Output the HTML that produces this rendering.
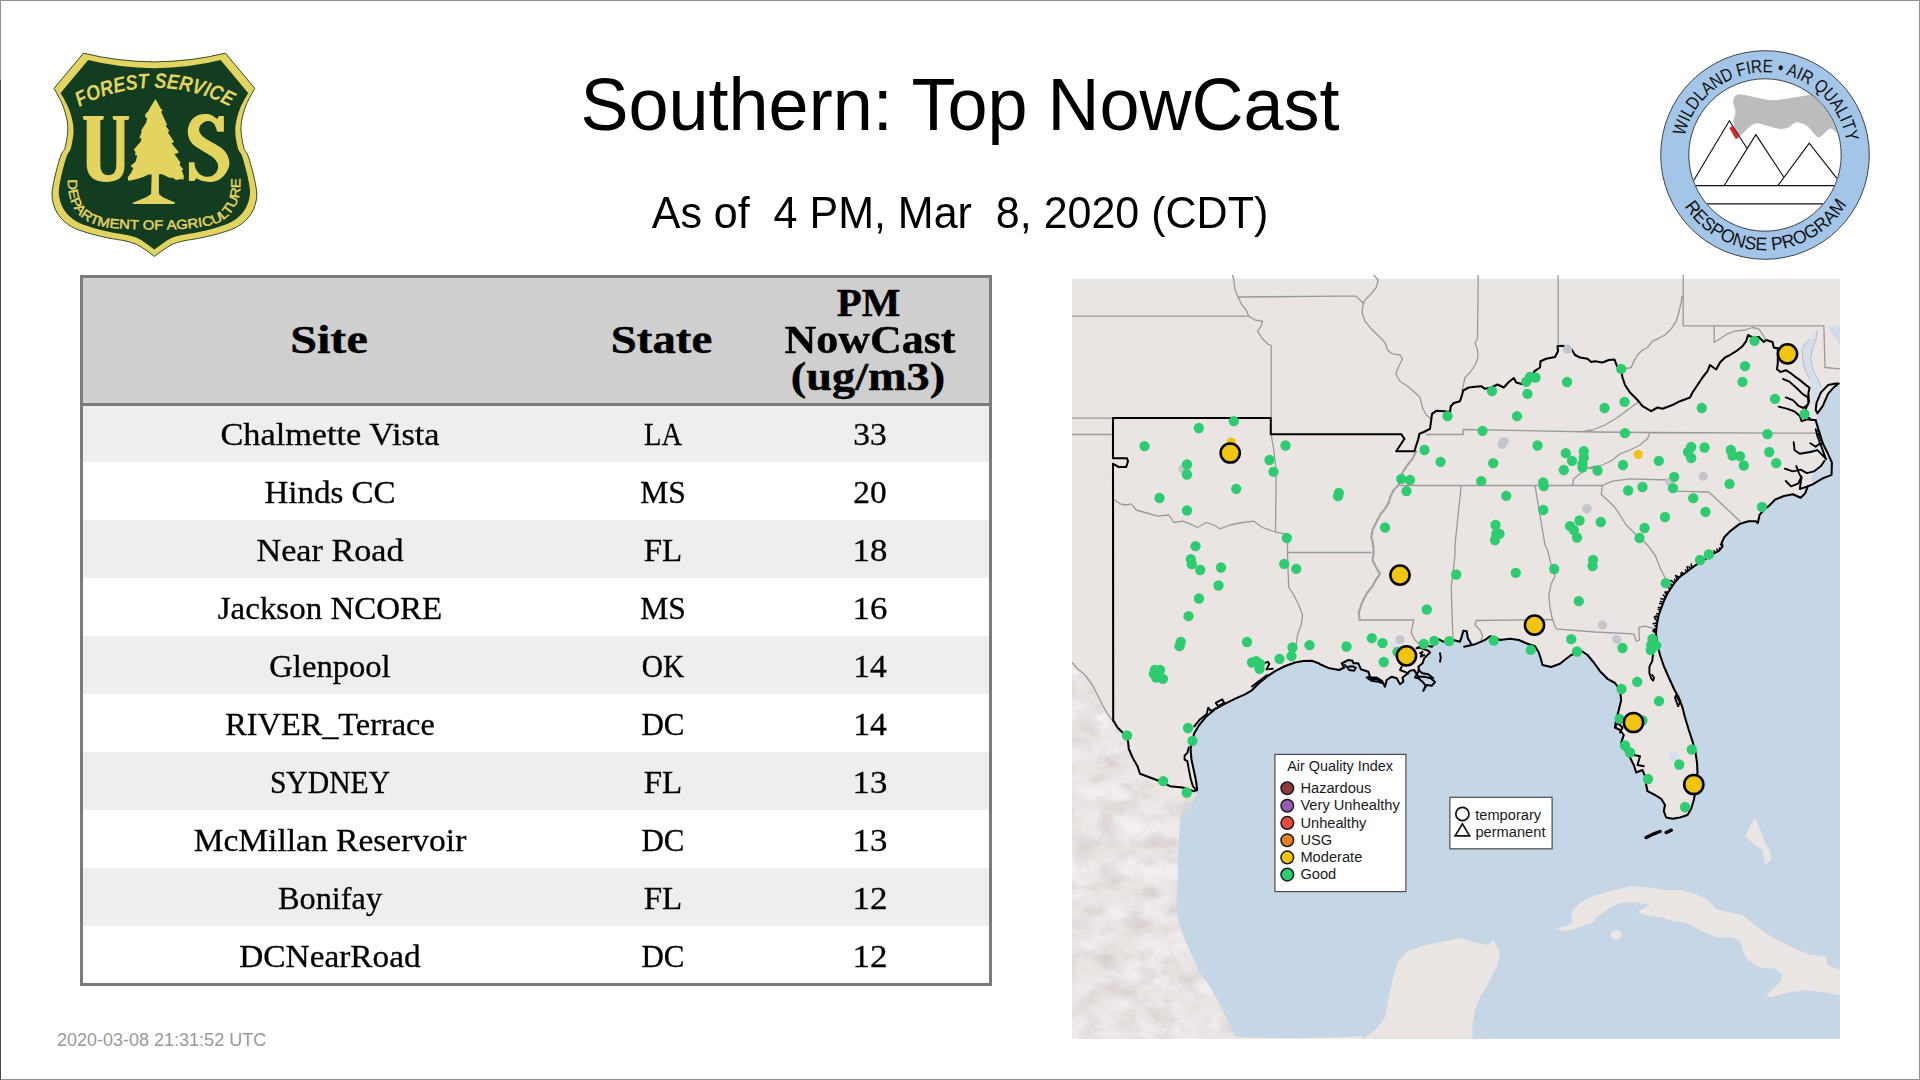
<!DOCTYPE html>
<html><head><meta charset="utf-8"><title>Southern: Top NowCast</title>
<style>
html,body{margin:0;padding:0;background:#fff;}
body{width:1920px;height:1080px;position:relative;overflow:hidden;font-family:"Liberation Sans",sans-serif;color:#000;}
.abs{position:absolute;}
.frame{left:0;top:0;width:1918px;height:1078px;border:1px solid #909090;}
.ledge{left:0;top:80px;width:1px;height:1000px;background:#4a4a4a;}
.title{left:0;width:1920px;text-align:center;white-space:pre;}
#t1{top:64px;font-size:72px;line-height:82px;transform:scaleY(1.04);transform-origin:50% 66px;}
#t2{top:188px;font-size:43px;line-height:50px;transform:scaleY(1.05);transform-origin:50% 40px;}
#foot{left:57px;top:1029.5px;font-size:18px;line-height:20px;color:#999;white-space:pre;}
.tb{background:#7b7b7b;}
.hd{left:83px;top:278px;width:906px;height:125px;background:#cfcfcf;}
.row{left:83px;width:906px;}
.g{background:#eeeeee;}
.cell{position:absolute;text-align:center;white-space:pre;font-family:"Liberation Serif",serif;font-size:31px;line-height:34px;height:34px;-webkit-text-stroke:0.3px #000;}
.c1{left:130px;width:400px;}
.c2{left:563px;width:200px;}
.c3{left:769.5px;width:200px;}
.h{font-weight:bold;font-size:40px;line-height:42px;height:42px;-webkit-text-stroke:0.45px #000;}

</style></head>
<body>
<div class="abs frame"></div><div class="abs ledge"></div>
<div class="abs title" id="t1">Southern: Top NowCast</div>
<div class="abs title" id="t2">As of  4 PM, Mar  8, 2020 (CDT)</div>
<div class="abs" id="foot">2020-03-08 21:31:52 UTC</div>
<svg class="abs" style="left:40px;top:40px" width="240" height="230" viewBox="40 40 240 230">
<path d="M154.40 61.9 Q192.40 61.5 225.30 53.1 L254.80 88.40 C253.28 91.35 248.00 99.75 245.70 106.10 C243.40 112.45 241.35 119.70 241.00 126.50 C240.65 133.30 242.47 142.15 243.60 146.90 C244.73 151.65 246.52 151.73 247.80 155.00 C249.08 158.27 250.15 162.30 251.30 166.50 C252.45 170.70 253.78 175.62 254.70 180.20 C255.62 184.78 256.70 189.98 256.80 194.00 C256.90 198.02 256.22 201.07 255.30 204.30 C254.38 207.53 253.12 210.53 251.30 213.40 C249.48 216.27 247.27 219.02 244.40 221.50 C241.53 223.98 238.68 226.20 234.10 228.30 C229.52 230.40 222.63 232.47 216.90 234.10 C211.17 235.73 205.23 236.97 199.70 238.10 C194.17 239.23 188.28 239.85 183.70 240.90 C179.12 241.95 175.65 242.87 172.20 244.40 C168.75 245.93 165.97 248.10 163.00 250.10 C160.03 252.10 155.83 255.35 154.40 256.40 C152.97 255.35 148.77 252.10 145.80 250.10 C142.83 248.10 140.05 245.93 136.60 244.40 C133.15 242.87 129.68 241.95 125.10 240.90 C120.52 239.85 114.63 239.23 109.10 238.10 C103.57 236.97 97.63 235.73 91.90 234.10 C86.17 232.47 79.28 230.40 74.70 228.30 C70.12 226.20 67.27 223.98 64.40 221.50 C61.53 219.02 59.32 216.27 57.50 213.40 C55.68 210.53 54.42 207.53 53.50 204.30 C52.58 201.07 51.90 198.02 52.00 194.00 C52.10 189.98 53.18 184.78 54.10 180.20 C55.02 175.62 56.35 170.70 57.50 166.50 C58.65 162.30 59.72 158.27 61.00 155.00 C62.28 151.73 64.07 151.65 65.20 146.90 C66.33 142.15 68.15 133.30 67.80 126.50 C67.45 119.70 65.40 112.45 63.10 106.10 C60.80 99.75 55.52 91.35 54.00 88.40 L83.50 53.1 Q116.40 61.5 154.40 61.9 Z" fill="#e3d45f" stroke="#133d20" stroke-width="0.9"/>
<path d="M154.40 61.9 Q192.40 61.5 225.30 53.1 L254.80 88.40 C253.28 91.35 248.00 99.75 245.70 106.10 C243.40 112.45 241.35 119.70 241.00 126.50 C240.65 133.30 242.47 142.15 243.60 146.90 C244.73 151.65 246.52 151.73 247.80 155.00 C249.08 158.27 250.15 162.30 251.30 166.50 C252.45 170.70 253.78 175.62 254.70 180.20 C255.62 184.78 256.70 189.98 256.80 194.00 C256.90 198.02 256.22 201.07 255.30 204.30 C254.38 207.53 253.12 210.53 251.30 213.40 C249.48 216.27 247.27 219.02 244.40 221.50 C241.53 223.98 238.68 226.20 234.10 228.30 C229.52 230.40 222.63 232.47 216.90 234.10 C211.17 235.73 205.23 236.97 199.70 238.10 C194.17 239.23 188.28 239.85 183.70 240.90 C179.12 241.95 175.65 242.87 172.20 244.40 C168.75 245.93 165.97 248.10 163.00 250.10 C160.03 252.10 155.83 255.35 154.40 256.40 C152.97 255.35 148.77 252.10 145.80 250.10 C142.83 248.10 140.05 245.93 136.60 244.40 C133.15 242.87 129.68 241.95 125.10 240.90 C120.52 239.85 114.63 239.23 109.10 238.10 C103.57 236.97 97.63 235.73 91.90 234.10 C86.17 232.47 79.28 230.40 74.70 228.30 C70.12 226.20 67.27 223.98 64.40 221.50 C61.53 219.02 59.32 216.27 57.50 213.40 C55.68 210.53 54.42 207.53 53.50 204.30 C52.58 201.07 51.90 198.02 52.00 194.00 C52.10 189.98 53.18 184.78 54.10 180.20 C55.02 175.62 56.35 170.70 57.50 166.50 C58.65 162.30 59.72 158.27 61.00 155.00 C62.28 151.73 64.07 151.65 65.20 146.90 C66.33 142.15 68.15 133.30 67.80 126.50 C67.45 119.70 65.40 112.45 63.10 106.10 C60.80 99.75 55.52 91.35 54.00 88.40 L83.50 53.1 Q116.40 61.5 154.40 61.9 Z" fill="#133d20" transform="translate(154.40 154.9) scale(0.934 0.932) translate(-154.40 -154.9)"/>
<g transform="translate(75 95) scale(0.11111)" fill="#e3d45f"><path d="M72 190 H258 V212 Q258 225 240 225 H228 V630 Q228 722 300 722 Q372 722 372 630 V225 H358 Q340 225 340 212 V190 H487 V212 Q487 225 470 225 H445 V640 Q445 782 290 782 Q105 782 105 620 V225 H90 Q72 225 72 212 Z"/><path d="M1340 190 L1295 190 L1280 215 C1271.67 209.50 1246.67 189.50 1230.00 182.00 C1213.33 174.50 1201.67 169.50 1180.00 170.00 C1158.33 170.50 1123.33 173.33 1100.00 185.00 C1076.67 196.67 1054.17 217.50 1040.00 240.00 C1025.83 262.50 1016.67 293.33 1015.00 320.00 C1013.33 346.67 1019.17 376.67 1030.00 400.00 C1040.83 423.33 1058.33 441.67 1080.00 460.00 C1101.67 478.33 1133.33 493.33 1160.00 510.00 C1186.67 526.67 1219.17 541.67 1240.00 560.00 C1260.83 578.33 1278.33 600.00 1285.00 620.00 C1291.67 640.00 1287.50 662.50 1280.00 680.00 C1272.50 697.50 1256.67 715.83 1240.00 725.00 C1223.33 734.17 1200.00 737.50 1180.00 735.00 C1160.00 732.50 1135.83 722.50 1120.00 710.00 C1104.17 697.50 1092.50 677.50 1085.00 660.00 C1077.50 642.50 1076.67 614.17 1075.00 605.00 L1025 605 L1025 775 L1075 775 L1090 750 C1100.00 754.17 1128.33 769.67 1150.00 775.00 C1171.67 780.33 1195.00 784.50 1220.00 782.00 C1245.00 779.50 1276.67 773.67 1300.00 760.00 C1323.33 746.33 1345.00 723.33 1360.00 700.00 C1375.00 676.67 1388.33 646.67 1390.00 620.00 C1391.67 593.33 1381.67 563.33 1370.00 540.00 C1358.33 516.67 1341.67 498.33 1320.00 480.00 C1298.33 461.67 1266.67 446.67 1240.00 430.00 C1213.33 413.33 1180.00 396.67 1160.00 380.00 C1140.00 363.33 1125.83 346.67 1120.00 330.00 C1114.17 313.33 1118.33 294.17 1125.00 280.00 C1131.67 265.83 1145.83 252.50 1160.00 245.00 C1174.17 237.50 1194.17 231.67 1210.00 235.00 C1225.83 238.33 1243.33 249.17 1255.00 265.00 C1266.67 280.83 1275.83 319.17 1280.00 330.00 L1340 330 Z"/><path d="M725 35 L770 120 L790 140 L775 150 L825 260 L830 270 L815 275 L850 325 L835 335 L890 420 L880 432 L865 430 L935 515 L920 525 L895 530 L950 610 L940 625 L975 670 L960 680 L980 730 L975 765 L955 755 L935 760 L910 765 L880 745 L850 745 L830 735 L800 720 L770 710 L755 715 L755 890 L790 920 L905 970 L890 982 L530 982 L515 972 L640 920 L685 890 L690 715 L660 715 L620 735 L580 750 L540 760 L500 770 L478 770 L475 740 L505 700 L525 660 L500 640 L545 600 L560 545 L540 540 L545 515 L530 490 L590 420 L600 395 L580 385 L600 330 L595 320 L640 250 L650 210 L630 195 L635 170 L660 145 L690 90 Z"/></g>
<path id="fsTop" d="M78.1 107.7 A159.3 159.3 0 0 1 232.3 108.1" fill="none"/>
<path id="fsBot" d="M67.90 179.60 C67.97 181.23 67.82 185.87 68.30 189.40 C68.78 192.93 69.62 197.37 70.80 200.80 C71.98 204.23 73.40 207.13 75.40 210.00 C77.40 212.87 79.85 215.70 82.80 218.00 C85.75 220.30 89.28 222.27 93.10 223.80 C96.92 225.33 100.35 226.35 105.70 227.20 C111.05 228.05 117.08 228.52 125.20 228.90 C133.32 229.28 144.85 229.50 154.40 229.50 C163.95 229.50 174.38 229.38 182.50 228.90 C190.62 228.42 197.37 227.55 203.10 226.60 C208.83 225.65 213.08 224.63 216.90 223.20 C220.72 221.77 223.33 220.20 226.00 218.00 C228.67 215.80 230.88 213.05 232.90 210.00 C234.92 206.95 236.90 203.13 238.10 199.70 C239.30 196.27 239.72 192.83 240.10 189.40 C240.48 185.97 240.35 180.82 240.40 179.10" fill="none"/>
<text font-family="Liberation Sans, sans-serif" font-weight="bold" font-style="italic" font-size="21" fill="#e3d45f"><textPath href="#fsTop" startOffset="1.5" textLength="157" lengthAdjust="spacingAndGlyphs">FOREST SERVICE</textPath></text>
<text font-family="Liberation Sans, sans-serif" font-size="13.2" stroke="#e3d45f" stroke-width="0.45" fill="#e3d45f"><textPath href="#fsBot" textLength="233.7" lengthAdjust="spacingAndGlyphs">DEPARTMENT OF AGRICULTURE</textPath></text>
</svg>

<svg class="abs" style="left:1650px;top:40px" width="230" height="230" viewBox="1650 40 230 230">
<circle cx="1765" cy="155" r="104.3" fill="#a3c5e8" stroke="#1a1a1a" stroke-width="0.8"/>
<circle cx="1765" cy="155" r="76.2" fill="#fff" stroke="#1a1a1a" stroke-width="0.8"/>
<defs><clipPath id="aqc"><circle cx="1765" cy="155" r="75.8"/></clipPath></defs>
<g clip-path="url(#aqc)">
<path d="M1733.43 98.98 C1733.94 98.30 1734.62 95.59 1736.48 94.91 C1738.35 94.23 1741.24 94.47 1744.63 94.91 C1748.03 95.35 1752.78 96.71 1756.85 97.56 C1760.93 98.41 1765.00 99.66 1769.08 100.00 C1773.15 100.34 1777.22 100.00 1781.30 99.59 C1785.37 99.19 1789.45 98.24 1793.52 97.56 C1797.60 96.88 1802.52 96.03 1805.74 95.52 C1808.97 95.01 1809.48 93.75 1812.87 94.50 C1816.27 95.25 1821.87 96.71 1826.11 100.00 C1830.36 103.29 1835.28 108.49 1838.34 114.26 C1841.39 120.03 1844.45 131.24 1844.45 134.63 C1844.45 138.03 1840.03 135.31 1838.34 134.63 C1836.64 133.95 1835.62 131.58 1834.26 130.56 C1832.90 129.54 1831.55 128.35 1830.19 128.52 C1828.83 128.69 1827.47 130.39 1826.11 131.58 C1824.76 132.76 1823.40 134.73 1822.04 135.65 C1820.68 136.57 1819.32 137.42 1817.97 137.08 C1816.61 136.74 1815.25 135.04 1813.89 133.61 C1812.53 132.19 1811.35 130.05 1809.82 128.52 C1808.29 126.99 1806.59 125.46 1804.72 124.45 C1802.86 123.43 1800.48 122.58 1798.61 122.41 C1796.75 122.24 1795.22 122.58 1793.52 123.43 C1791.82 124.28 1790.47 126.58 1788.43 127.50 C1786.39 128.42 1783.84 128.93 1781.30 128.93 C1778.75 128.93 1775.70 128.08 1773.15 127.50 C1770.60 126.92 1768.40 126.14 1766.02 125.46 C1763.64 124.79 1760.93 123.67 1758.89 123.43 C1756.85 123.19 1755.50 123.36 1753.80 124.04 C1752.10 124.72 1750.23 126.25 1748.71 127.50 C1747.18 128.76 1745.99 130.22 1744.63 131.58 C1743.27 132.93 1741.75 135.14 1740.56 135.65 C1739.37 136.16 1738.52 136.16 1737.50 134.63 C1736.48 133.10 1735.12 128.86 1734.45 126.48 C1733.77 124.11 1733.26 122.75 1733.43 120.37 C1733.60 118.00 1735.46 114.94 1735.46 112.22 C1735.46 109.51 1733.77 106.28 1733.43 104.08 C1733.09 101.87 1733.43 99.83 1733.43 98.98 Z" fill="#bbbcbe"/>
<g fill="none" stroke="#111" stroke-width="1.15">
<path d="M1693.70 180.47 L1729.35 120.78 L1747.08 148.48"/><path d="M1724.26 185.56 L1755.84 134.63 L1783.74 177.00"/><path d="M1777.84 185.56 L1809.21 143.19 L1836.91 178.43"/><path d="M1693.70 185.56 L1835.28 185.56"/><path d="M1705.93 203.89 L1824.08 203.89"/></g>
<path d="M1729.35 128.11 L1732.41 126.08 L1738.93 137.08 L1735.87 139.32 Z" fill="#de2126"/>
</g>
<path id="aqTop" d="M1684.58 136.14 A82.6 82.6 0 0 1 1846.49 141.51" fill="none"/>
<path id="aqBot" d="M1684.45 206.12 A95.4 95.4 0 0 0 1846.60 204.42" fill="none"/>
<text font-family="Liberation Sans, sans-serif" font-size="18.3" fill="#111"><textPath href="#aqTop" textLength="226.9" lengthAdjust="spacingAndGlyphs">WILDLAND FIRE • AIR QUALITY</textPath></text>
<text font-family="Liberation Sans, sans-serif" font-size="18.3" fill="#111"><textPath href="#aqBot" textLength="193.8" lengthAdjust="spacingAndGlyphs">RESPONSE PROGRAM</textPath></text>
</svg>

<!-- TABLE -->
<div class="abs tb" style="left:80px;top:275px;width:912px;height:711px;"></div>
<div class="abs" style="left:83px;top:278px;width:906px;height:705px;background:#fff;"></div>
<div class="abs hd"></div>
<div class="abs tb" style="left:83px;top:403px;width:906px;height:3px;"></div>
<div class="abs row g" style="top:406px;height:56px;"></div>
<div class="abs row g" style="top:520px;height:58px;"></div>
<div class="abs row g" style="top:636px;height:58px;"></div>
<div class="abs row g" style="top:752px;height:58px;"></div>
<div class="abs row g" style="top:868px;height:58px;"></div>
<div class="cell c1 h" style="top:318.5px;transform:translateX(-1.0px) scaleX(1.202);">Site</div>
<div class="cell c2 h" style="top:318.5px;transform:translateX(-1.5px) scaleX(1.170);">State</div>
<div class="cell c3 h" style="top:281.5px;transform:translateX(-1.5px) scaleX(1.022);">PM</div>
<div class="cell c3 h" style="top:318.5px;transform:translateX(0.0px) scaleX(1.098);">NowCast</div>
<div class="cell c3 h" style="top:355.5px;transform:translateX(-2.0px) scaleX(1.157);">(ug/m3)</div>

<div class="cell c1" style="top:417.5px;transform:translateX(0.0px) scaleX(1.106);">Chalmette Vista</div>
<div class="cell c2" style="top:417.5px;transform:translateX(0.0px) scaleX(0.923);">LA</div>
<div class="cell c3" style="top:417.5px;transform:translateX(0.0px) scaleX(1.077);">33</div>
<div class="cell c1" style="top:475.5px;transform:translateX(0.0px) scaleX(1.064);">Hinds CC</div>
<div class="cell c2" style="top:475.5px;transform:translateX(0.0px) scaleX(1.020);">MS</div>
<div class="cell c3" style="top:475.5px;transform:translateX(0.0px) scaleX(1.077);">20</div>
<div class="cell c1" style="top:533.5px;transform:translateX(0.0px) scaleX(1.102);">Near Road</div>
<div class="cell c2" style="top:533.5px;transform:translateX(0.0px) scaleX(1.064);">FL</div>
<div class="cell c3" style="top:533.5px;transform:translateX(0.0px) scaleX(1.122);">18</div>
<div class="cell c1" style="top:591.5px;transform:translateX(0.0px) scaleX(1.064);">Jackson NCORE</div>
<div class="cell c2" style="top:591.5px;transform:translateX(0.0px) scaleX(1.020);">MS</div>
<div class="cell c3" style="top:591.5px;transform:translateX(0.0px) scaleX(1.122);">16</div>
<div class="cell c1" style="top:649.5px;transform:translateX(0.0px) scaleX(1.052);">Glenpool</div>
<div class="cell c2" style="top:649.5px;transform:translateX(0.0px) scaleX(0.949);">OK</div>
<div class="cell c3" style="top:649.5px;transform:translateX(0.0px) scaleX(1.081);">14</div>
<div class="cell c1" style="top:707.5px;transform:translateX(0.0px) scaleX(1.043);">RIVER_Terrace</div>
<div class="cell c2" style="top:707.5px;transform:translateX(0.0px) scaleX(0.998);">DC</div>
<div class="cell c3" style="top:707.5px;transform:translateX(0.0px) scaleX(1.081);">14</div>
<div class="cell c1" style="top:765.5px;transform:translateX(0.0px) scaleX(0.956);">SYDNEY</div>
<div class="cell c2" style="top:765.5px;transform:translateX(0.0px) scaleX(1.064);">FL</div>
<div class="cell c3" style="top:765.5px;transform:translateX(0.0px) scaleX(1.122);">13</div>
<div class="cell c1" style="top:823.5px;transform:translateX(0.0px) scaleX(1.081);">McMillan Reservoir</div>
<div class="cell c2" style="top:823.5px;transform:translateX(0.0px) scaleX(0.998);">DC</div>
<div class="cell c3" style="top:823.5px;transform:translateX(0.0px) scaleX(1.122);">13</div>
<div class="cell c1" style="top:881.5px;transform:translateX(0.0px) scaleX(1.043);">Bonifay</div>
<div class="cell c2" style="top:881.5px;transform:translateX(0.0px) scaleX(1.064);">FL</div>
<div class="cell c3" style="top:881.5px;transform:translateX(0.0px) scaleX(1.128);">12</div>
<div class="cell c1" style="top:939.5px;transform:translateX(0.0px) scaleX(1.075);">DCNearRoad</div>
<div class="cell c2" style="top:939.5px;transform:translateX(0.0px) scaleX(0.998);">DC</div>
<div class="cell c3" style="top:939.5px;transform:translateX(0.0px) scaleX(1.128);">12</div>

<svg class="abs" style="left:1072px;top:275px" width="768" height="765" viewBox="1072 275 768 765">
<defs><clipPath id="mc"><rect x="1072" y="278.5" width="768" height="760.5"/></clipPath><clipPath id="mc2"><rect x="1072" y="275" width="768" height="764"/></clipPath></defs>
<g clip-path="url(#mc)">
<rect x="1072" y="278.5" width="768" height="761" fill="#eae4e3"/>
<path d="M1236.2 1038.8 L1232.5 1030.0 L1225.0 1015.0 L1217.5 1000.0 L1208.8 985.0 L1200.0 972.5 L1192.5 957.5 L1186.2 942.5 L1181.2 930.0 L1177.5 917.5 L1176.2 902.5 L1177.5 885.0 L1178.0 860.0 L1178.8 840.0 L1180.0 822.5 L1181.2 812.5 L1190.0 807.5 L1195.0 797.5 L1197.0 791.2 L1197.1 788.9 L1195.7 779.2 L1193.6 769.4 L1191.5 759.7 L1190.6 750.0 L1191.5 741.7 L1194.3 733.3 L1199.2 725.0 L1206.1 716.7 L1214.4 709.7 L1224.2 704.2 L1235.3 698.6 L1245.0 694.4 L1251.9 690.3 L1258.9 683.3 L1267.2 676.4 L1275.6 670.8 L1285.3 666.0 L1295.0 662.5 L1303.3 661.1 L1311.7 660.8 L1318.6 663.2 L1320.0 664.2 L1328.3 667.9 L1339.2 670.0 L1344.2 667.5 L1341.7 663.3 L1348.3 660.0 L1352.5 660.8 L1353.3 663.3 L1358.3 663.3 L1360.8 669.2 L1368.3 671.7 L1370.0 676.7 L1366.7 677.5 L1371.7 680.8 L1378.3 681.7 L1383.3 683.3 L1385.0 686.7 L1386.7 680.0 L1391.7 676.7 L1396.7 678.3 L1400.0 684.2 L1403.3 681.7 L1402.5 677.5 L1406.7 674.2 L1410.0 670.8 L1414.2 670.0 L1418.3 676.7 L1424.2 676.7 L1430.8 678.3 L1435.0 682.1 L1431.7 685.8 L1426.7 685.0 L1423.3 690.8 L1425.8 685.8 L1422.5 681.7 L1418.3 678.3 L1415.0 677.5 L1419.2 670.0 L1418.3 666.7 L1422.5 663.3 L1424.2 658.3 L1427.5 655.0 L1430.0 652.5 L1428.3 650.8 L1420.0 647.5 L1416.7 648.3 L1424.2 645.0 L1431.7 646.7 L1438.3 639.2 L1443.3 641.7 L1453.3 640.0 L1460.0 641.7 L1461.7 636.7 L1463.3 630.8 L1466.7 631.2 L1467.9 638.3 L1470.0 641.7 L1471.7 645.0 L1464.2 646.7 L1475.0 644.2 L1480.0 642.1 L1485.0 640.0 L1490.0 636.2 L1495.0 637.5 L1500.0 640.0 L1510.0 638.8 L1518.8 640.0 L1527.5 643.8 L1535.0 646.2 L1538.8 652.5 L1541.2 660.0 L1542.5 665.0 L1551.2 667.0 L1560.0 663.8 L1566.2 658.8 L1571.2 655.0 L1577.5 652.5 L1580.0 650.0 L1587.5 655.0 L1593.8 662.5 L1600.0 671.2 L1607.5 678.8 L1615.0 683.0 L1620.0 690.0 L1621.2 700.0 L1618.8 710.0 L1616.2 720.0 L1615.0 727.5 L1620.0 730.0 L1623.8 735.0 L1621.2 742.5 L1625.0 750.0 L1630.0 757.5 L1633.8 765.0 L1636.2 772.5 L1642.5 770.0 L1645.0 776.2 L1646.2 785.0 L1647.5 791.2 L1655.0 795.0 L1661.2 798.8 L1665.0 805.0 L1663.8 811.2 L1666.2 817.5 L1672.5 818.8 L1680.0 817.5 L1687.5 815.0 L1691.2 808.8 L1693.8 800.0 L1695.0 793.8 L1695.5 785.0 L1696.2 780.0 L1697.5 772.5 L1697.0 762.5 L1695.5 752.5 L1692.5 741.2 L1688.8 730.0 L1685.0 717.5 L1682.5 707.5 L1678.8 697.5 L1674.5 690.0 L1668.8 677.5 L1663.8 666.2 L1660.0 655.0 L1657.5 645.0 L1655.9 633.3 L1656.9 624.1 L1658.7 614.8 L1661.5 607.4 L1664.3 600.0 L1668.0 592.6 L1671.7 587.0 L1675.4 581.5 L1680.9 575.9 L1687.4 571.3 L1694.8 565.7 L1702.2 561.1 L1707.8 557.4 L1713.3 553.7 L1718.9 550.9 L1722.6 546.3 L1721.7 542.6 L1724.4 537.0 L1730.9 530.6 L1739.3 524.1 L1748.5 521.3 L1755.9 521.3 L1757.8 523.1 L1759.6 514.8 L1765.2 508.3 L1768.2 506.6 L1775.2 499.5 L1784.0 496.0 L1792.8 494.2 L1800.7 497.8 L1805.1 493.4 L1807.8 486.3 L1812.2 484.6 L1822.7 478.4 L1831.5 474.9 L1831.9 462.6 L1828.0 453.8 L1822.7 443.2 L1818.3 429.1 L1815.7 420.3 L1817.4 413.3 L1822.7 406.2 L1828.0 393.9 L1833.3 387.8 L1840.3 383.0 L1840.0 1039.5 L1236.0 1039.5 Z" fill="#c5d6e7"/>
<path d="M1362.5 1038.8 L1375.0 1030.0 L1385.0 1017.5 L1387.5 1002.5 L1392.5 980.0 L1397.5 962.5 L1407.5 951.2 L1425.0 945.0 L1445.0 941.2 L1460.0 938.0 L1475.0 942.5 L1487.5 945.0 L1493.8 940.0 L1500.0 952.5 L1497.5 965.0 L1492.5 975.0 L1487.5 985.0 L1480.0 997.5 L1475.0 1010.0 L1472.5 1025.0 L1472.5 1038.8 Z" fill="#ebe5e3"/>
<path d="M1555.0 928.8 L1565.0 926.2 L1572.5 922.5 L1571.2 912.5 L1577.5 905.0 L1587.5 898.8 L1595.0 895.0 L1595.0 921.2 L1585.0 925.0 L1575.0 928.8 L1565.0 931.2 Z" fill="#ebe5e3"/>
<path d="M1580.0 927.5 L1580.0 902.5 L1592.5 896.2 L1610.0 891.2 L1630.0 886.2 L1650.0 887.5 L1665.0 890.0 L1680.0 890.0 L1695.0 893.8 L1707.5 900.0 L1716.2 908.8 L1730.0 912.5 L1742.5 915.0 L1755.0 925.0 L1765.0 932.5 L1777.5 940.0 L1792.5 947.5 L1810.0 955.0 L1826.2 956.2 L1827.5 965.0 L1840.0 970.0 L1840.0 995.0 L1825.0 992.5 L1805.0 990.0 L1787.5 992.5 L1770.0 997.5 L1766.2 995.0 L1780.0 982.5 L1782.5 975.0 L1775.0 968.8 L1760.0 967.5 L1747.5 960.0 L1742.5 950.0 L1740.0 940.0 L1730.0 937.5 L1717.5 937.5 L1705.0 932.5 L1695.0 927.5 L1685.0 922.5 L1672.5 921.2 L1662.5 917.5 L1650.0 916.2 L1637.5 912.5 L1645.0 907.5 L1650.0 905.0 L1637.5 902.5 L1622.5 902.5 L1610.0 907.5 L1600.0 915.0 L1590.0 920.0 Z" fill="#ebe5e3"/>
<path d="M1755.0 817.5 L1745.0 836.2 L1755.0 845.0 L1762.5 850.0 L1765.0 865.0 L1771.2 860.0 L1770.0 850.0 L1765.0 842.5 L1760.0 830.0 Z" fill="#ebe5e3"/>
<path d="M1622.2 935.0 L1620.5 938.5 L1616.3 940.0 L1612.0 938.5 L1610.3 935.0 L1612.0 931.5 L1616.2 930.0 L1620.5 931.5 Z" fill="#ebe5e3"/>
<path d="M1810.4 339.4 L1814.8 332.3 L1817.4 330.6 L1816.0 339.4 L1812.5 348.2 L1810.7 358.7 L1812.5 369.3 L1817.4 378.1 L1821.3 386.9 L1819.5 390.7 L1816.0 415.9 L1814.8 411.5 L1813.0 402.7 L1810.4 390.4 L1810.0 379.8 L1805.5 371.0 L1802.7 360.5 L1802.0 349.9 L1805.5 342.9 Z" fill="#d3e0ec"/>
<path d="M1828.0 327.0 L1833.3 335.8 L1839.4 342.9 L1841.2 355.2 L1841.2 325.3 Z" fill="#cfdcea"/>
<path d="M1813.9 471.4 L1821.0 466.1 L1826.2 459.0 L1828.0 455.5 L1830.6 463.4 L1830.1 474.0 L1822.7 477.5 L1813.0 482.8 L1810.4 478.4 Z" fill="#cad9e8"/>
<path d="M1798.1 451.1 L1810.4 449.4 L1819.2 447.6 L1822.7 451.1 L1826.2 457.3 L1822.7 455.5 L1817.4 451.1 L1810.4 452.9 L1799.8 454.6 Z" fill="#cfdcea"/>
<ellipse cx="1673.8" cy="756.2" rx="5.5" ry="5" fill="#d5e0ec"/>
<ellipse cx="1395.0" cy="645.8" rx="6" ry="3.5" fill="#dbe2ea"/>
<path d="M1810.4 339.4 L1805.5 342.9 L1802.0 349.9 L1802.7 360.5 L1805.5 371.0 L1810.0 379.8" fill="none" stroke="#b8bcc2" stroke-width="1"/>
<path d="M1817.4 330.6 L1816.0 339.4 L1812.5 348.2 L1810.7 358.7 L1812.5 369.3 L1817.4 378.1 L1821.3 386.9" fill="none" stroke="#b8bcc2" stroke-width="1"/>
<defs><filter id="rlfL" x="0" y="0" width="100%" height="100%" color-interpolation-filters="sRGB"><feTurbulence type="fractalNoise" baseFrequency="0.035 0.05" numOctaves="4" seed="11"/><feColorMatrix type="matrix" values="0 0 0 0 1  0 0 0 0 1  0 0 0 0 1  1.1 0 0 0 -0.42"/></filter><filter id="rlfD" x="0" y="0" width="100%" height="100%" color-interpolation-filters="sRGB"><feTurbulence type="fractalNoise" baseFrequency="0.04 0.06" numOctaves="4" seed="29"/><feColorMatrix type="matrix" values="0 0 0 0 0.55  0 0 0 0 0.5  0 0 0 0 0.5  0 0.45 0 0 -0.19"/></filter><filter id="rlfS" x="0" y="0" width="100%" height="100%" color-interpolation-filters="sRGB"><feTurbulence type="fractalNoise" baseFrequency="0.05" numOctaves="3" seed="5"/><feColorMatrix type="matrix" values="0 0 0 0 1  0 0 0 0 1  0 0 0 0 1  1.2 0 0 0 -0.52"/></filter><clipPath id="mexclip"><path d="M1072.0 662.5 L1072.0 662.5 L1077.5 668.8 L1085.0 675.0 L1092.5 685.0 L1097.5 695.0 L1102.5 705.0 L1107.5 713.8 L1113.0 721.2 L1117.5 727.5 L1123.8 733.8 L1128.0 741.2 L1128.8 748.8 L1132.5 757.5 L1137.5 766.2 L1140.0 773.8 L1150.0 777.5 L1160.0 781.2 L1170.0 786.2 L1182.5 787.5 L1193.8 791.2 L1199.0 792.0 L1197.0 791.2 L1195.0 797.5 L1190.0 807.5 L1181.2 812.5 L1180.0 822.5 L1178.8 840.0 L1178.0 860.0 L1177.5 885.0 L1176.2 902.5 L1177.5 917.5 L1181.2 930.0 L1186.2 942.5 L1192.5 957.5 L1200.0 972.5 L1208.8 985.0 L1217.5 1000.0 L1225.0 1015.0 L1232.5 1030.0 L1236.2 1038.8 L1236.0 1040.0 L1072.0 1040.0 Z"/></clipPath></defs><g clip-path="url(#mexclip)"><rect x="1072" y="660" width="170" height="380" filter="url(#rlfL)"/><rect x="1072" y="660" width="170" height="380" filter="url(#rlfD)"/></g>
<path d="M1236 1040 L1236 1036.5 L1250 1037.5 L1300 1038 L1345 1037 L1362 1036 L1362 1040 Z" fill="#ebe5e3"/>

</g>
<g clip-path="url(#mc2)" fill="none" stroke-linejoin="round" stroke-linecap="round">
<path d="M1072.0 316.2 L1248.0 316.2 M1232.5 275.0 L1233.8 280.0 L1235.0 290.0 L1238.0 297.0 L1241.2 303.8 L1246.2 310.0 L1248.8 316.2 L1255.0 320.0 L1262.5 321.2 L1261.2 326.2 L1257.5 331.2 L1262.5 338.8 L1267.5 343.8 L1271.2 345.5 L1271.2 418.0 M1238.0 297.0 L1340.0 296.2 L1356.2 296.2 L1363.8 303.8 M1072.0 418.2 L1113.0 418.2 M1072.0 434.5 L1113.0 434.5 M1271.2 435.0 L1273.8 450.0 L1276.2 470.0 L1275.5 532.0 M1113.8 499.5 L1120.0 503.8 L1126.2 505.0 L1131.2 503.8 L1136.2 510.0 L1145.0 512.5 L1157.5 516.2 L1168.8 515.0 L1173.8 522.5 L1182.5 521.2 L1190.0 523.8 L1197.5 527.5 L1206.2 522.5 L1213.8 525.0 L1220.0 528.8 L1230.0 525.0 L1242.5 522.5 L1253.8 521.2 L1262.5 527.5 L1275.5 532.0 L1285.0 533.8 L1286.2 536.2 L1287.5 540.0 M1373.8 275.0 L1378.2 280.0 L1376.2 287.5 L1371.2 293.8 L1365.0 300.0 L1363.0 305.0 L1362.0 312.5 L1365.0 321.2 L1371.2 328.8 L1378.8 336.2 L1385.0 342.5 L1387.5 350.0 L1392.0 353.8 L1400.0 355.0 L1402.5 358.8 L1398.8 366.2 L1395.8 373.8 L1400.0 381.2 L1407.5 386.2 L1415.0 392.5 L1420.0 397.5 L1422.5 407.5 L1426.2 415.0 L1430.0 418.0 M1478.2 275.0 L1477.5 338.8 L1475.0 342.5 L1477.5 350.0 L1478.0 357.5 L1475.0 365.0 L1470.0 372.5 L1465.0 377.5 L1463.2 386.2 L1462.0 390.5 M1558.2 275.0 L1558.2 346.2 M1426.2 434.5 L1463.2 434.5 L1463.2 429.5 L1595.0 432.0 L1650.0 432.5 L1817.5 433.2 M1400.0 485.5 L1595.0 485.5 L1602.5 485.5 M1461.2 485.5 L1455.0 545.0 L1455.0 555.0 L1451.2 587.5 L1452.0 612.5 L1453.0 640.0 M1535.0 485.5 L1545.0 545.0 L1547.5 550.0 L1551.2 565.0 L1555.0 576.2 L1551.2 583.8 L1548.8 595.0 L1550.0 607.5 L1552.5 620.0 M1572.5 485.5 L1573.8 478.8 L1580.0 473.8 L1585.0 468.8 L1595.0 466.2 L1590.0 468.8 L1602.5 465.0 L1612.5 460.0 L1620.0 453.8 L1630.0 450.0 L1640.0 445.0 L1647.5 438.8 L1650.0 432.5 M1683.2 275.0 L1683.2 325.8 L1823.8 325.8 L1825.0 367.5 L1840.0 368.8 M1682.0 296.2 L1681.2 302.5 L1678.8 312.5 L1676.2 321.2 L1671.2 328.8 L1665.0 335.0 L1657.5 338.8 L1652.5 341.2 L1647.5 347.5 L1642.5 350.0 L1637.5 355.0 L1633.8 361.2 L1631.2 367.5 L1621.2 369.5 M1714.2 325.8 L1714.2 342.5 L1720.0 338.8 L1727.5 333.8 L1735.0 331.2 L1745.0 330.0 L1752.5 327.5 L1758.8 328.8 L1763.8 336.2 L1765.0 339.5 M1637.5 402.5 L1627.5 410.0 L1617.5 417.5 L1605.0 425.0 L1592.5 430.0 L1580.0 432.0 M1602.5 485.5 L1612.5 481.2 L1630.0 478.8 L1667.5 480.0 L1673.8 491.2 L1708.8 492.0 L1740.0 521.2 M1602.5 485.5 L1601.2 494.5 L1607.5 500.0 L1615.0 507.5 L1620.0 515.0 L1626.2 525.0 L1633.8 532.5 L1642.5 540.0 L1640.0 537.5 L1647.5 545.0 L1655.0 555.0 L1660.0 567.5 L1666.2 580.0 L1667.5 583.8 M1287.5 540.0 L1287.5 552.5 L1288.0 570.0 L1288.8 587.5 L1293.8 595.0 L1298.8 605.0 L1302.5 615.0 L1301.2 625.0 L1297.5 635.0 L1296.2 645.0 L1292.5 650.0 L1290.0 660.0 M1287.5 552.5 L1340.0 552.5 L1371.2 552.5 M1359.5 620.0 L1413.8 620.0 L1412.5 626.2 L1411.2 632.5 L1415.0 640.0 L1418.8 643.8 M1476.2 620.5 L1552.5 619.5 L1556.2 628.8 L1595.0 632.0 L1633.8 633.8 L1636.2 641.2 L1639.5 640.0 L1638.8 627.5 L1645.0 626.2 L1655.0 628.8 M1476.2 620.5 L1475.0 625.0 L1480.0 630.0 L1482.5 636.2 L1481.2 640.0 M1072.0 662.5 L1077.5 668.8 L1085.0 675.0 L1092.5 685.0 L1097.5 695.0 L1102.5 705.0 L1107.5 713.8 L1113.0 721.2" stroke="#9a9a9a" stroke-width="1.3"/>
<path d="M1416.2 451.2 L1412.5 458.8 L1407.5 465.0 L1402.5 472.5 L1400.0 478.8 L1398.8 485.0 L1393.8 490.0 L1390.5 496.2 L1388.8 502.5 L1385.0 508.8 L1380.0 515.0 L1376.2 522.5 L1372.5 530.0 L1371.2 537.5 L1372.5 540.0 L1373.8 552.5 L1372.5 560.0 L1376.2 567.5 L1380.0 573.8 L1375.0 581.2 L1372.5 586.2 L1367.5 592.5 L1363.8 598.8 L1361.2 605.0 L1358.8 612.5 L1359.5 620.0" stroke="#a3a3a3" stroke-width="2.2" stroke-dasharray="2.5 1.2"/>
<path d="M1113.0 418.0 L1270.8 418.0 L1270.8 434.2 L1340.0 434.2 L1401.2 434.2 L1404.5 438.8 L1396.2 451.2 L1414.5 451.2 L1415.5 447.5 L1418.0 440.0 L1419.5 433.8 L1423.8 432.0 L1430.0 428.8 L1431.2 420.0 L1432.0 413.8 L1436.2 410.8 L1443.8 411.2 L1450.0 412.0 L1450.8 406.2 L1453.8 403.0 L1460.0 401.2 L1462.0 395.0 L1463.2 390.5 L1468.8 387.5 L1475.0 386.8 L1481.2 386.2 L1485.0 388.8 L1491.2 387.5 L1497.5 384.5 L1503.8 387.5 L1508.8 382.0 L1513.8 378.0 L1516.2 382.5 L1522.5 384.2 L1530.0 380.0 L1534.5 371.2 L1540.0 367.5 L1540.5 361.2 L1546.2 358.8 L1555.0 357.0 L1558.0 351.2 L1557.5 346.2 L1562.5 345.8 L1571.2 348.8 L1575.0 355.0 L1580.0 357.5 L1587.5 358.8 L1591.2 362.0 L1595.0 361.2 L1602.5 362.5 L1608.8 360.0 L1614.5 359.5 L1617.0 366.2 L1621.2 370.0 L1622.5 377.5 L1625.0 385.0 L1630.0 392.5 L1637.5 400.0 L1642.5 406.2 L1651.2 411.2 L1657.5 407.5 L1662.5 408.8 L1672.5 405.0 L1680.0 401.2 L1690.0 397.5 L1692.5 392.5 L1697.5 385.0 L1702.5 377.5 L1707.5 371.2 L1710.0 365.0 L1716.2 369.5 L1720.0 362.5 L1725.0 357.5 L1730.0 355.0 L1736.2 351.2 L1742.5 346.2 L1746.2 341.2 L1748.0 335.0 L1752.5 337.5 L1758.8 337.0 L1763.8 342.0 L1766.2 340.0 L1772.5 342.0 L1773.8 347.5 L1778.8 348.8 L1777.8 348.2 L1777.8 363.1 L1777.0 369.3 L1780.5 371.9 L1785.8 370.2 L1790.2 372.8 L1794.6 376.3 L1800.7 380.7 L1806.0 385.1 L1809.5 387.8 L1808.3 393.9 L1809.0 401.0 L1807.8 404.5 L1806.0 408.0 L1805.5 411.5 L1806.9 415.9 L1810.4 419.4 L1815.7 420.3 L1815.7 420.3 L1818.3 429.1 L1822.7 443.2 L1828.0 453.8 L1831.9 462.6 L1831.5 474.9 L1822.7 478.4 L1812.2 484.6 L1807.8 486.3 L1805.1 493.4 L1800.7 497.8 L1792.8 494.2 L1784.0 496.0 L1775.2 499.5 L1768.2 506.6 L1765.2 508.3 L1759.6 514.8 L1757.8 523.1 L1755.9 521.3 L1748.5 521.3 L1739.3 524.1 L1730.9 530.6 L1724.4 537.0 L1721.7 542.6 L1722.6 546.3 L1718.9 550.9 L1713.3 553.7 L1707.8 557.4 L1702.2 561.1 L1694.8 565.7 L1687.4 571.3 L1680.9 575.9 L1675.4 581.5 L1671.7 587.0 L1668.0 592.6 L1664.3 600.0 L1661.5 607.4 L1658.7 614.8 L1656.9 624.1 L1655.9 633.3 L1657.5 645.0 L1660.0 655.0 L1663.8 666.2 L1668.8 677.5 L1674.5 690.0 L1678.8 697.5 L1682.5 707.5 L1685.0 717.5 L1688.8 730.0 L1692.5 741.2 L1695.5 752.5 L1697.0 762.5 L1697.5 772.5 L1696.2 780.0 L1695.5 785.0 L1695.0 793.8 L1693.8 800.0 L1691.2 808.8 L1687.5 815.0 L1680.0 817.5 L1672.5 818.8 L1666.2 817.5 L1663.8 811.2 L1665.0 805.0 L1661.2 798.8 L1655.0 795.0 L1647.5 791.2 L1646.2 785.0 L1645.0 776.2 L1642.5 770.0 L1636.2 772.5 L1633.8 765.0 L1630.0 757.5 L1625.0 750.0 L1621.2 742.5 L1623.8 735.0 L1620.0 730.0 L1615.0 727.5 L1616.2 720.0 L1618.8 710.0 L1621.2 700.0 L1620.0 690.0 L1615.0 683.0 L1607.5 678.8 L1600.0 671.2 L1593.8 662.5 L1587.5 655.0 L1580.0 650.0 L1577.5 652.5 L1571.2 655.0 L1566.2 658.8 L1560.0 663.8 L1551.2 667.0 L1542.5 665.0 L1541.2 660.0 L1538.8 652.5 L1535.0 646.2 L1527.5 643.8 L1518.8 640.0 L1510.0 638.8 L1500.0 640.0 L1495.0 637.5 L1490.0 636.2 L1485.0 640.0 L1480.0 642.1 L1475.0 644.2 L1464.2 646.7 L1471.7 645.0 L1470.0 641.7 L1467.9 638.3 L1466.7 631.2 L1463.3 630.8 L1461.7 636.7 L1460.0 641.7 L1453.3 640.0 L1443.3 641.7 L1438.3 639.2 L1431.7 646.7 L1424.2 645.0 L1416.7 648.3 L1420.0 647.5 L1428.3 650.8 L1430.0 652.5 L1427.5 655.0 L1424.2 658.3 L1422.5 663.3 L1418.3 666.7 L1419.2 670.0 L1415.0 677.5 L1418.3 678.3 L1422.5 681.7 L1425.8 685.8 L1423.3 690.8 L1426.7 685.0 L1431.7 685.8 L1435.0 682.1 L1430.8 678.3 L1424.2 676.7 L1418.3 676.7 L1414.2 670.0 L1410.0 670.8 L1406.7 674.2 L1402.5 677.5 L1403.3 681.7 L1400.0 684.2 L1396.7 678.3 L1391.7 676.7 L1386.7 680.0 L1385.0 686.7 L1383.3 683.3 L1378.3 681.7 L1371.7 680.8 L1366.7 677.5 L1370.0 676.7 L1368.3 671.7 L1360.8 669.2 L1358.3 663.3 L1353.3 663.3 L1352.5 660.8 L1348.3 660.0 L1341.7 663.3 L1344.2 667.5 L1339.2 670.0 L1328.3 667.9 L1320.0 664.2 L1318.6 663.2 L1311.7 660.8 L1303.3 661.1 L1295.0 662.5 L1285.3 666.0 L1275.6 670.8 L1267.2 676.4 L1258.9 683.3 L1251.9 690.3 L1245.0 694.4 L1235.3 698.6 L1224.2 704.2 L1214.4 709.7 L1206.1 716.7 L1199.2 725.0 L1194.3 733.3 L1191.5 741.7 L1190.6 750.0 L1191.5 759.7 L1193.6 769.4 L1195.7 779.2 L1197.1 788.9 L1197.0 790.0 L1193.8 791.2 L1182.5 787.5 L1170.0 786.2 L1160.0 781.2 L1150.0 777.5 L1140.0 773.8 L1137.5 766.2 L1132.5 757.5 L1128.8 748.8 L1128.0 741.2 L1123.8 733.8 L1117.5 727.5 L1113.8 721.2 L1113.2 721.0 L1113.0 463.8 L1118.8 467.0 L1126.2 467.0 L1128.0 461.2 L1127.0 458.2 L1113.0 458.2 Z" stroke="#000" stroke-width="2.05"/>
<path d="M1838.6 383.4 L1835.9 383.4 L1828.0 385.1 L1821.0 392.2 L1816.6 402.7 L1815.7 409.8 L1817.4 413.3 L1822.7 406.2 L1828.0 393.9 L1833.3 387.8 Z" stroke="#000" stroke-width="2"/>
<path d="M1783.1 379.0 L1789.3 381.6 L1796.3 387.8 L1802.5 393.9 L1807.8 397.4 L1808.6 402.7 M1785.8 397.4 L1792.8 400.1 L1799.0 406.2 L1803.4 408.0 L1807.8 404.5 M1778.7 406.6 L1787.5 408.9 L1794.6 411.5 L1799.8 415.9 L1801.6 421.2 L1806.9 419.4 L1815.7 420.3 M1793.7 442.3 L1794.6 450.2 L1799.8 453.8 L1810.4 452.0 L1817.4 450.2 L1822.7 455.5 L1826.2 459.0 M1810.4 443.2 L1815.7 446.7 L1820.1 443.2 M1815.7 429.1 L1817.4 436.2 L1820.1 443.2 L1822.7 450.2 L1825.4 457.3 M1784.9 468.7 L1792.8 471.4 L1800.7 469.6 L1806.9 473.1 L1813.9 471.4 L1821.0 466.1 L1824.5 460.8 M1785.8 481.0 L1791.0 486.3 L1798.1 483.7 L1801.6 476.6 L1799.8 489.0 L1807.8 486.3 M1796.3 466.1 L1799.0 473.1 L1801.6 478.4 M1653.1 653.7 L1652.2 661.1 L1649.4 666.7 L1649.4 673.1 L1651.3 678.7 L1653.1 680.6 L1654.1 677.8 L1652.2 675.0 M1196.4 790.3 L1192.9 786.1 L1190.8 779.2 L1188.8 769.4 L1187.4 761.1 L1184.6 759.7 L1184.6 755.6 L1187.4 752.8 L1188.8 747.2 M1194.3 726.4 L1199.9 719.4 L1206.8 713.9 L1208.2 707.6 L1211.0 711.1 L1215.8 708.3 M1215.8 702.8 L1222.1 699.3 L1224.2 702.8 L1217.9 706.2 L1215.8 702.8 M1264.4 663.2 L1267.9 661.8 L1269.3 663.9 L1266.5 669.4 L1272.8 668.8 M1251.9 686.4 L1258.9 681.2 L1267.2 675.0 M1345.0 665.0 L1349.2 670.0 L1354.2 670.8 L1355.8 667.9 L1352.5 666.2 L1348.3 666.7 M1440.0 653.3 L1440.8 657.5 L1440.0 661.7 M1401.7 666.7 L1400.0 670.0 L1404.2 671.7 L1408.3 673.3 M1418.3 670.0 L1422.5 673.3 L1428.3 674.2 L1433.3 678.3 M1420.0 653.3 L1422.5 651.7 L1420.8 656.7 L1424.2 655.0 M1676.2 695.0 L1680.0 702.5 L1678.0 706.2 L1675.0 697.5 L1676.2 695.0 M1615.0 727.5 L1617.5 722.5 L1622.5 727.5 L1620.0 732.5 M1633.8 755.0 L1640.0 756.2 L1637.5 765.0 L1643.8 766.2" stroke="#000" stroke-width="1.9"/>
<path d="M1646.2 837.5 L1653.8 833.8 L1660.0 831.5 M1666.2 832.5 L1671.2 830.2 M1371.7 678.3 L1376.7 678.3 L1381.7 681.7" stroke="#000" stroke-width="3.4"/>
<path d="M1656.0 632.6 L1653.7 631.9 M1656.2 630.8 L1652.8 631.0 M1656.4 628.4 L1653.5 629.9 M1656.7 625.2 L1654.7 626.0 M1657.1 622.8 L1653.2 623.8 M1657.5 621.0 L1654.8 618.6 M1658.1 617.8 L1656.0 615.7 M1658.3 616.7 L1654.2 616.9 M1659.0 614.1 L1656.7 613.8 M1660.4 610.4 L1658.2 609.3 M1661.1 608.6 L1658.4 607.4 M1661.4 607.6 L1659.3 607.6 M1662.8 604.0 L1659.7 603.6 M1663.5 602.0 L1660.4 601.6 M1664.6 599.3 L1660.9 598.7 M1665.5 597.6 L1663.4 595.0 M1666.7 595.1 L1665.3 592.8 M1667.1 594.3 L1664.9 592.2 M1668.3 592.1 L1665.0 592.0 M1670.3 589.1 L1667.2 586.7 M1671.9 586.7 L1670.0 584.7 M1672.8 585.3 L1669.9 583.5 M1674.5 582.8 L1670.8 580.5 M1675.6 581.2 L1674.5 579.4 M1677.3 579.6 L1675.6 575.4 M1678.4 578.5 L1676.7 576.0 M1679.6 577.2 L1676.7 576.0 M1681.6 575.5 L1680.9 573.4 M1683.5 574.1 L1681.7 572.2 M1686.9 571.7 L1685.5 569.9 M1688.2 570.7 L1687.1 566.6 M1690.7 568.8 L1688.9 566.8 M1691.7 568.1 L1691.3 563.9 M1693.2 567.0 L1691.2 565.6 M1708.4 557.0 L1707.2 554.8 M1711.1 555.2 L1710.1 554.0 M1714.0 553.4 L1714.2 550.7 M1717.7 551.5 L1716.9 549.1 M1720.0 549.5 L1719.3 548.1 M1722.2 546.8 L1720.5 544.0 M1818.6 430.0 L1816.6 432.0 M1819.5 433.0 L1818.1 434.5 M1819.9 434.3 L1817.9 435.4 M1820.6 436.3 L1819.1 437.6 M1821.3 438.7 L1819.6 440.8 M1822.6 442.9 L1820.2 445.0" stroke="#000" stroke-width="1.5"/>

</g>
<g clip-path="url(#mc)">
<g fill="#c3c7cb"><circle cx="1183.0" cy="468.8" r="4.6"/><circle cx="1567.5" cy="349.2" r="4.6"/><circle cx="1502.0" cy="444.5" r="4.6"/><circle cx="1504.0" cy="441.5" r="4.6"/><circle cx="1586.8" cy="508.8" r="4.6"/><circle cx="1703.2" cy="476.2" r="4.6"/><circle cx="1587.0" cy="508.8" r="4.6"/><circle cx="1670.0" cy="482.0" r="4.6"/><circle cx="1400.0" cy="639.5" r="4.6"/><circle cx="1602.5" cy="625.0" r="4.6"/><circle cx="1616.8" cy="639.5" r="4.6"/></g>
<g fill="#f1c40f"><circle cx="1638.2" cy="454.5" r="4.6"/><circle cx="1231.2" cy="442.0" r="4.6"/></g>
<g fill="#2ecc71"><circle cx="1233.8" cy="421.2" r="5.15"/><circle cx="1198.8" cy="428.0" r="5.15"/><circle cx="1144.5" cy="446.2" r="5.15"/><circle cx="1285.5" cy="445.5" r="5.15"/><circle cx="1269.5" cy="460.0" r="5.15"/><circle cx="1273.5" cy="471.8" r="5.15"/><circle cx="1187.0" cy="464.5" r="5.15"/><circle cx="1187.0" cy="474.5" r="5.15"/><circle cx="1236.2" cy="488.8" r="5.15"/><circle cx="1159.5" cy="498.0" r="5.15"/><circle cx="1187.0" cy="510.5" r="5.15"/><circle cx="1286.8" cy="538.0" r="5.15"/><circle cx="1447.5" cy="416.2" r="5.15"/><circle cx="1492.0" cy="391.2" r="5.15"/><circle cx="1527.5" cy="393.8" r="5.15"/><circle cx="1517.0" cy="416.2" r="5.15"/><circle cx="1482.5" cy="430.8" r="5.15"/><circle cx="1537.5" cy="445.5" r="5.15"/><circle cx="1424.5" cy="450.0" r="5.15"/><circle cx="1440.5" cy="461.8" r="5.15"/><circle cx="1493.2" cy="463.2" r="5.15"/><circle cx="1401.2" cy="478.8" r="5.15"/><circle cx="1410.0" cy="480.0" r="5.15"/><circle cx="1406.5" cy="491.2" r="5.15"/><circle cx="1481.2" cy="481.2" r="5.15"/><circle cx="1506.2" cy="495.8" r="5.15"/><circle cx="1543.2" cy="482.5" r="5.15"/><circle cx="1543.8" cy="486.2" r="5.15"/><circle cx="1543.2" cy="510.0" r="5.15"/><circle cx="1338.8" cy="493.0" r="5.15"/><circle cx="1338.0" cy="496.2" r="5.15"/><circle cx="1385.0" cy="527.5" r="5.15"/><circle cx="1567.0" cy="382.0" r="5.15"/><circle cx="1530.0" cy="377.0" r="5.15"/><circle cx="1535.5" cy="377.5" r="5.15"/><circle cx="1526.2" cy="381.8" r="5.15"/><circle cx="1565.8" cy="453.2" r="5.15"/><circle cx="1572.0" cy="460.8" r="5.15"/><circle cx="1563.8" cy="470.0" r="5.15"/><circle cx="1583.8" cy="451.2" r="5.15"/><circle cx="1583.8" cy="457.5" r="5.15"/><circle cx="1582.5" cy="463.8" r="5.15"/><circle cx="1495.5" cy="525.0" r="5.15"/><circle cx="1499.5" cy="533.8" r="5.15"/><circle cx="1495.0" cy="540.0" r="5.15"/><circle cx="1579.5" cy="520.5" r="5.15"/><circle cx="1570.0" cy="526.2" r="5.15"/><circle cx="1573.8" cy="530.0" r="5.15"/><circle cx="1577.0" cy="537.5" r="5.15"/><circle cx="1621.2" cy="368.8" r="5.15"/><circle cx="1624.5" cy="401.8" r="5.15"/><circle cx="1604.5" cy="408.0" r="5.15"/><circle cx="1701.8" cy="408.0" r="5.15"/><circle cx="1625.0" cy="433.2" r="5.15"/><circle cx="1745.0" cy="366.2" r="5.15"/><circle cx="1742.5" cy="381.8" r="5.15"/><circle cx="1754.5" cy="340.8" r="5.15"/><circle cx="1775.0" cy="398.8" r="5.15"/><circle cx="1804.5" cy="414.2" r="5.15"/><circle cx="1767.5" cy="434.2" r="5.15"/><circle cx="1769.2" cy="452.0" r="5.15"/><circle cx="1776.2" cy="463.2" r="5.15"/><circle cx="1762.0" cy="506.8" r="5.15"/><circle cx="1691.2" cy="447.0" r="5.15"/><circle cx="1688.0" cy="452.0" r="5.15"/><circle cx="1691.2" cy="458.0" r="5.15"/><circle cx="1704.5" cy="447.5" r="5.15"/><circle cx="1730.8" cy="450.0" r="5.15"/><circle cx="1732.5" cy="455.5" r="5.15"/><circle cx="1740.0" cy="456.2" r="5.15"/><circle cx="1743.8" cy="465.5" r="5.15"/><circle cx="1729.5" cy="483.8" r="5.15"/><circle cx="1658.8" cy="460.8" r="5.15"/><circle cx="1623.0" cy="465.0" r="5.15"/><circle cx="1597.5" cy="470.5" r="5.15"/><circle cx="1674.2" cy="476.8" r="5.15"/><circle cx="1673.0" cy="488.2" r="5.15"/><circle cx="1642.5" cy="487.0" r="5.15"/><circle cx="1628.2" cy="490.5" r="5.15"/><circle cx="1693.2" cy="498.2" r="5.15"/><circle cx="1705.5" cy="511.8" r="5.15"/><circle cx="1665.0" cy="517.0" r="5.15"/><circle cx="1644.5" cy="528.0" r="5.15"/><circle cx="1639.5" cy="538.0" r="5.15"/><circle cx="1600.8" cy="522.0" r="5.15"/><circle cx="1582.5" cy="467.5" r="5.15"/><circle cx="1195.5" cy="546.2" r="5.15"/><circle cx="1190.8" cy="559.2" r="5.15"/><circle cx="1191.8" cy="564.2" r="5.15"/><circle cx="1200.2" cy="570.0" r="5.15"/><circle cx="1221.0" cy="567.5" r="5.15"/><circle cx="1284.2" cy="563.8" r="5.15"/><circle cx="1296.2" cy="568.8" r="5.15"/><circle cx="1218.5" cy="585.5" r="5.15"/><circle cx="1199.0" cy="598.5" r="5.15"/><circle cx="1188.5" cy="616.2" r="5.15"/><circle cx="1180.8" cy="641.8" r="5.15"/><circle cx="1179.5" cy="646.2" r="5.15"/><circle cx="1247.0" cy="642.0" r="5.15"/><circle cx="1309.5" cy="645.2" r="5.15"/><circle cx="1292.5" cy="647.5" r="5.15"/><circle cx="1291.5" cy="656.2" r="5.15"/><circle cx="1279.5" cy="658.8" r="5.15"/><circle cx="1252.0" cy="662.5" r="5.15"/><circle cx="1256.2" cy="661.2" r="5.15"/><circle cx="1260.0" cy="663.8" r="5.15"/><circle cx="1259.5" cy="668.8" r="5.15"/><circle cx="1155.0" cy="670.0" r="5.15"/><circle cx="1160.0" cy="670.0" r="5.15"/><circle cx="1156.2" cy="677.5" r="5.15"/><circle cx="1163.0" cy="678.8" r="5.15"/><circle cx="1153.8" cy="673.8" r="5.15"/><circle cx="1158.8" cy="674.5" r="5.15"/><circle cx="1127.0" cy="735.5" r="5.15"/><circle cx="1188.0" cy="728.0" r="5.15"/><circle cx="1192.5" cy="740.8" r="5.15"/><circle cx="1163.2" cy="781.2" r="5.15"/><circle cx="1186.8" cy="792.5" r="5.15"/><circle cx="1496.2" cy="533.8" r="5.15"/><circle cx="1456.2" cy="574.5" r="5.15"/><circle cx="1515.8" cy="572.8" r="5.15"/><circle cx="1554.2" cy="569.0" r="5.15"/><circle cx="1593.0" cy="560.0" r="5.15"/><circle cx="1592.5" cy="566.2" r="5.15"/><circle cx="1578.8" cy="601.2" r="5.15"/><circle cx="1426.8" cy="609.5" r="5.15"/><circle cx="1371.8" cy="638.2" r="5.15"/><circle cx="1382.5" cy="643.2" r="5.15"/><circle cx="1346.5" cy="646.5" r="5.15"/><circle cx="1383.8" cy="662.0" r="5.15"/><circle cx="1423.8" cy="643.8" r="5.15"/><circle cx="1434.2" cy="640.8" r="5.15"/><circle cx="1449.2" cy="641.2" r="5.15"/><circle cx="1493.8" cy="640.5" r="5.15"/><circle cx="1530.8" cy="649.8" r="5.15"/><circle cx="1571.2" cy="639.2" r="5.15"/><circle cx="1577.0" cy="651.5" r="5.15"/><circle cx="1397.5" cy="652.0" r="5.15"/><circle cx="1708.8" cy="554.5" r="5.15"/><circle cx="1700.0" cy="560.0" r="5.15"/><circle cx="1665.8" cy="583.2" r="5.15"/><circle cx="1652.5" cy="638.8" r="5.15"/><circle cx="1651.2" cy="645.0" r="5.15"/><circle cx="1656.2" cy="645.5" r="5.15"/><circle cx="1650.8" cy="650.0" r="5.15"/><circle cx="1622.5" cy="648.0" r="5.15"/><circle cx="1637.2" cy="681.8" r="5.15"/><circle cx="1621.5" cy="689.0" r="5.15"/><circle cx="1659.0" cy="701.2" r="5.15"/><circle cx="1619.5" cy="718.8" r="5.15"/><circle cx="1642.5" cy="720.5" r="5.15"/><circle cx="1625.0" cy="745.5" r="5.15"/><circle cx="1630.0" cy="752.5" r="5.15"/><circle cx="1691.8" cy="749.5" r="5.15"/><circle cx="1679.2" cy="764.5" r="5.15"/><circle cx="1648.0" cy="779.0" r="5.15"/><circle cx="1685.0" cy="807.0" r="5.15"/></g>
<g fill="#f1c40f" stroke="#000" stroke-width="2.5"><circle cx="1230.2" cy="453.0" r="9.6"/><circle cx="1787.5" cy="353.8" r="9.6"/><circle cx="1400.0" cy="575.2" r="9.6"/><circle cx="1534.5" cy="625.2" r="9.6"/><circle cx="1406.5" cy="655.8" r="9.6"/><circle cx="1633.5" cy="722.5" r="9.6"/><circle cx="1693.8" cy="784.5" r="9.6"/></g>
</g>
<g font-family="Liberation Sans, sans-serif" font-size="14.67" fill="#1a1a1a">
<rect x="1274.9" y="754.4" width="131" height="137.2" fill="#fff" stroke="#4d4d4d" stroke-width="1.2"/>
<text x="1287.2" y="770.5" textLength="105.8" lengthAdjust="spacingAndGlyphs">Air Quality Index</text>
<circle cx="1287.3" cy="788.3" r="6.3" fill="#8c3a3a" stroke="#1a1a1a" stroke-width="1.5"/><text x="1300.4" y="792.9">Hazardous</text>
<circle cx="1287.3" cy="805.7" r="6.3" fill="#9b59b6" stroke="#1a1a1a" stroke-width="1.5"/><text x="1300.4" y="810.3">Very Unhealthy</text>
<circle cx="1287.3" cy="822.9" r="6.3" fill="#e74c3c" stroke="#1a1a1a" stroke-width="1.5"/><text x="1300.4" y="827.5">Unhealthy</text>
<circle cx="1287.3" cy="840.2" r="6.3" fill="#e67e22" stroke="#1a1a1a" stroke-width="1.5"/><text x="1300.4" y="844.8">USG</text>
<circle cx="1287.3" cy="857.4" r="6.3" fill="#f1c40f" stroke="#1a1a1a" stroke-width="1.5"/><text x="1300.4" y="862.0">Moderate</text>
<circle cx="1287.3" cy="874.6" r="6.3" fill="#2ecc71" stroke="#1a1a1a" stroke-width="1.5"/><text x="1300.4" y="879.2">Good</text>
<rect x="1449.9" y="797.3" width="102.2" height="51.5" fill="#fff" stroke="#4d4d4d" stroke-width="1.2"/>
<circle cx="1462.4" cy="814" r="6.6" fill="none" stroke="#111" stroke-width="1.7"/>
<path d="M1462.4 823.9 L1469.6 835.8 L1455.2 835.8 Z" fill="none" stroke="#111" stroke-width="1.7" stroke-linejoin="miter"/>
<text x="1475.2" y="819.5">temporary</text><text x="1475.4" y="836.5">permanent</text>
</g>
</svg>

</body></html>
